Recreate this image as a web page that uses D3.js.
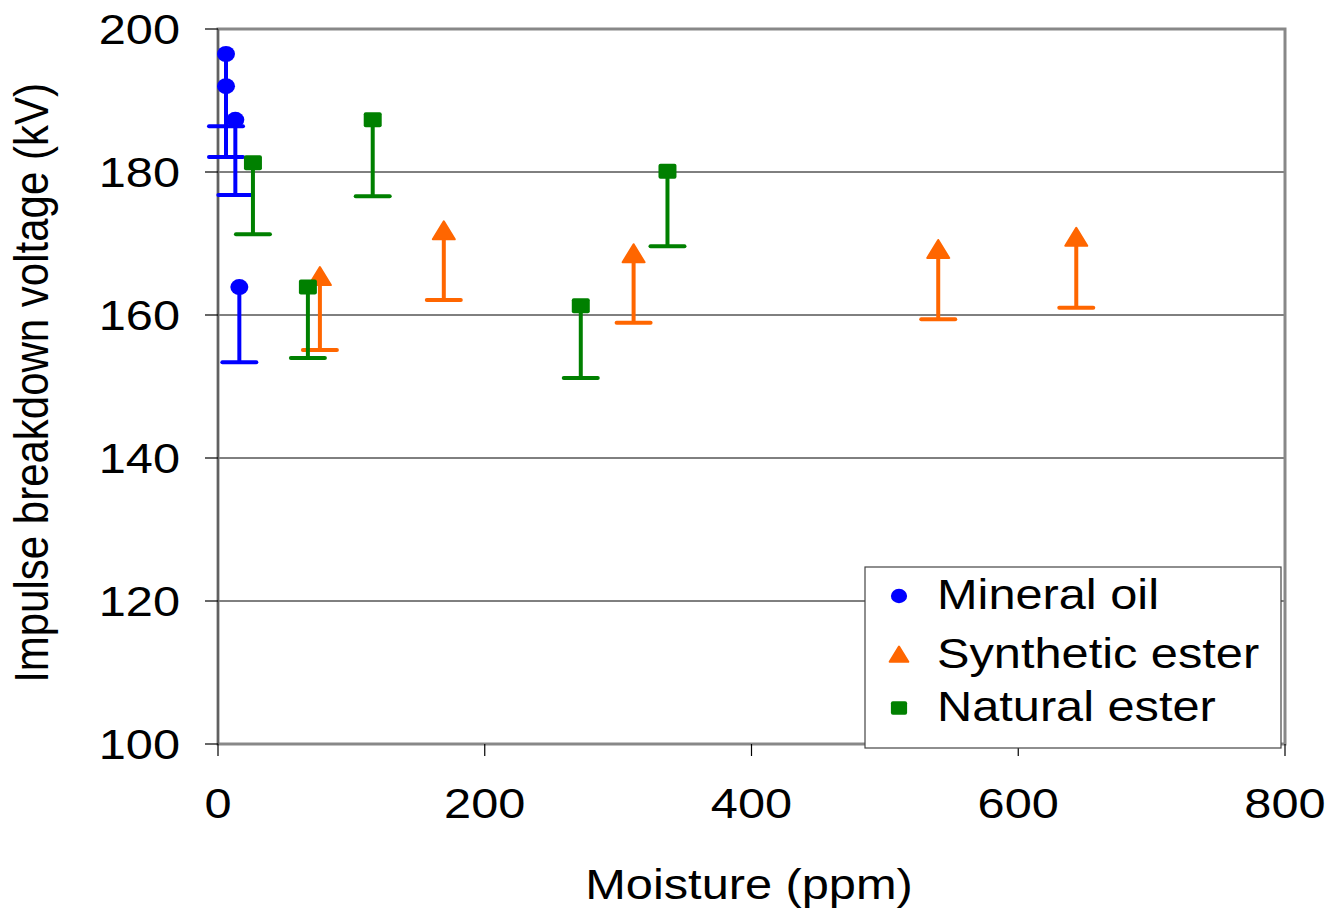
<!DOCTYPE html>
<html><head><meta charset="utf-8">
<script src="https://cdn.jsdelivr.net/npm/d3@7"></script>
<style>body{margin:0;background:#fff;} svg{display:block;} text{font-family:"Liberation Sans",Arial,sans-serif;fill:#000;}</style>
</head><body>
<svg id="c" width="1335" height="914"></svg>
<script>
const mineralX = [6, 6, 13, 16];
const mineralY = [196.5, 192.0, 187.3, 163.9];
const mineralLow = [186.4, 182.1, 176.8, 153.4];
const syntheticX = [76.4, 169.3, 311.6, 540, 643.5];
const syntheticY = [165.3, 171.7, 168.5, 169.1, 170.8];
const syntheticLow = [155.1, 162.1, 158.9, 159.4, 161.0];
const naturalX = [26.2, 67.4, 116, 272, 337];
const naturalY = [181.3, 163.9, 187.3, 161.3, 180.1];
const naturalLow = [171.3, 154.0, 176.6, 151.2, 169.6];
const xTicks = [0, 200, 400, 600, 800];
const yTicks = [100, 120, 140, 160, 180, 200];
const seriesNames = ["Mineral oil", "Synthetic ester", "Natural ester"];
const xTitle = "Moisture (ppm)";
const yTitle = "Impulse breakdown voltage (kV)";

const SX = 1.16; // horizontal text stretch
const svg = d3.select("#c");
const x = d3.scaleLinear().domain([0, 800]).range([218, 1285]);
const y = d3.scaleLinear().domain([100, 200]).range([744, 29]);

// gridlines
svg.append("g").selectAll("line").data(yTicks.filter(d => d > 100 && d < 200)).join("line")
  .attr("x1", x(0)).attr("x2", x(800)).attr("y1", d => y(d)).attr("y2", d => y(d))
  .attr("stroke", "#000").attr("stroke-width", 1);

// frame
svg.append("rect").attr("x", x(0)).attr("y", y(200)).attr("width", x(800) - x(0)).attr("height", y(100) - y(200))
  .attr("fill", "none").attr("stroke", "#888").attr("stroke-width", 3);
svg.append("line").attr("x1", x(0)).attr("x2", x(0)).attr("y1", y(200)).attr("y2", y(100)).attr("stroke", "#555").attr("stroke-width", 1.5);

// ticks
svg.append("g").selectAll("line").data(yTicks).join("line")
  .attr("x1", x(0) - 13).attr("x2", x(0)).attr("y1", d => y(d)).attr("y2", d => y(d))
  .attr("stroke", "#000").attr("stroke-width", 1.2);
svg.append("g").selectAll("line").data(xTicks).join("line")
  .attr("x1", d => x(d)).attr("x2", d => x(d)).attr("y1", y(100)).attr("y2", y(100) + 12)
  .attr("stroke", "#000").attr("stroke-width", 1.2);

// tick labels
svg.append("g").selectAll("text").data(yTicks).join("text")
  .attr("transform", d => `translate(${x(0) - 38},${y(d) + 15}) scale(${SX},1)`)
  .attr("text-anchor", "end").attr("font-size", 42).text(d => d);
svg.append("g").selectAll("text").data(xTicks).join("text")
  .attr("transform", d => `translate(${x(d)},${818}) scale(${SX},1)`)
  .attr("text-anchor", "middle").attr("font-size", 42).text(d => d);

// titles
svg.append("text").attr("transform", `translate(749,899) scale(${SX},1)`)
  .attr("text-anchor", "middle").attr("font-size", 42).text(xTitle);
svg.append("text").attr("transform", `translate(48,383) scale(${SX},1) rotate(-90)`)
  .attr("text-anchor", "middle").attr("font-size", 42).text(yTitle);

const colors = ["#0000FF", "#FF6600", "#008000"];
const series = [
  {xs: mineralX, ys: mineralY, lows: mineralLow, shape: "circle"},
  {xs: syntheticX, ys: syntheticY, lows: syntheticLow, shape: "triangle"},
  {xs: naturalX, ys: naturalY, lows: naturalLow, shape: "square"}
];

function marker(g, shape, color, cx, cy, s) {
  if (shape === "circle") {
    g.append("ellipse").attr("cx", cx).attr("cy", cy).attr("rx", 9 * s).attr("ry", 8 * s).attr("fill", color);
  } else if (shape === "square") {
    g.append("rect").attr("x", cx - 9 * s).attr("y", cy - 7.5 * s).attr("width", 18 * s).attr("height", 15 * s)
      .attr("rx", 2).attr("fill", color);
  } else {
    g.append("path").attr("d", `M${cx},${cy - 10 * s} L${cx + 11 * s},${cy + 8 * s} L${cx - 11 * s},${cy + 8 * s} Z`)
      .attr("fill", color).attr("stroke", color).attr("stroke-width", 2).attr("stroke-linejoin", "round");
  }
}

series.forEach((sr, i) => {
  const g = svg.append("g");
  const c = colors[i];
  sr.xs.forEach((xv, j) => {
    g.append("line").attr("x1", x(xv)).attr("x2", x(xv)).attr("y1", y(sr.ys[j])).attr("y2", y(sr.lows[j]))
      .attr("stroke", c).attr("stroke-width", 4);
    g.append("line").attr("x1", x(xv) - 17).attr("x2", x(xv) + 17).attr("y1", y(sr.lows[j])).attr("y2", y(sr.lows[j]))
      .attr("stroke", c).attr("stroke-width", 4).attr("stroke-linecap", "round");
  });
  sr.xs.forEach((xv, j) => marker(g, sr.shape, c, x(xv), y(sr.ys[j]), 1));
});

// legend
const lg = svg.append("g");
lg.append("rect").attr("x", 865).attr("y", 567).attr("width", 416).attr("height", 181)
  .attr("fill", "#fff").attr("stroke", "#444").attr("stroke-width", 1.2);
const legY = [596, 655, 708];
seriesNames.forEach((n, i) => {
  marker(lg, series[i].shape, colors[i], 899, legY[i], i === 1 ? 0.85 : 0.9);
  lg.append("text").attr("transform", `translate(937,${legY[i] + 13}) scale(${SX},1)`)
    .attr("font-size", 42).text(n);
});
</script>
</body></html>
